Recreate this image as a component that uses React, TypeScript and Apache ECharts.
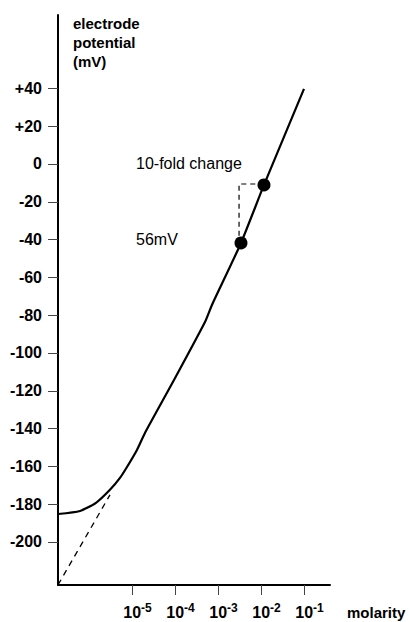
import React, { useEffect, useRef } from "react";
import * as echarts from "echarts";

// log10(molarity) tick positions
const xTicks = [-5, -4, -3, -2, -1];
// electrode potential ticks (mV)
const yTicks = [-200, -180, -160, -140, -120, -100, -80, -60, -40, -20, 0, 20, 40];

// main electrode response curve (x = log10 molarity, y = mV)
const curveX = [-6.721, -6.209, -5.837, -5.512, -5.279, -5.116, -4.884, -4.698, -4.023, -3.302, -3.14, -2.465, -1.93, -1.0];
const curveY = [-185.2, -183.6, -179.3, -172.4, -166.1, -160.3, -151.3, -142.3, -114.3, -83.6, -74.6, -41.8, -11.1, 39.7];

// extrapolated (dashed) ideal response
const extX = [-6.72, -5.512];
const extY = [-222.7, -175.1];

// marked points (10-fold change)
const dotX = [-2.465, -1.93];
const dotY = [-41.8, -11.1];

// bracket showing the 10-fold change / 56 mV step
const bracketX = [-2.51, -2.51, -1.98];
const bracketY = [-38.0, -10.6, -10.6];

const xMin = -6.72;
const xMax = -0.395;
const yMin = -222.75;
const yMax = 78.8;

const FONT = '"Liberation Sans", Arial, Helvetica, sans-serif';

export default function App() {
  const ref = useRef<HTMLDivElement>(null);
  useEffect(() => {
    if (!ref.current) return;
    document.body.style.margin = "0";
    const chart = echarts.init(ref.current, null, { renderer: "svg" });
    const zip = (a: number[], b: number[]) => a.map((v, i) => [v, b[i]]);
    chart.setOption({
      animation: false,
      backgroundColor: "#fff",
      grid: { left: 58, right: 80, top: 15, bottom: 37 },
      xAxis: {
        type: "value",
        min: xMin,
        max: xMax,
        splitLine: { show: false },
        axisLine: { show: true, onZero: false, lineStyle: { color: "#000", width: 2 } },
        axisTick: { show: true, length: 10, customValues: xTicks, lineStyle: { color: "#444", width: 1 } },
        axisLabel: {
          customValues: xTicks,
          margin: 17,
          formatter: (v: number) => `{g|}{b|10}{s|${v}}`,
          rich: {
            g: { width: 11 },
            b: { fontSize: 16, fontWeight: "bold", color: "#000", fontFamily: FONT },
            s: { fontSize: 12, fontWeight: "bold", color: "#000", fontFamily: FONT, padding: [0, 0, 9, 0] },
          },
        },
      },
      yAxis: {
        type: "value",
        min: yMin,
        max: yMax,
        splitLine: { show: false },
        axisLine: { show: true, onZero: false, lineStyle: { color: "#000", width: 2 } },
        axisTick: { show: true, length: 10, customValues: yTicks, lineStyle: { color: "#444", width: 1 } },
        axisLabel: {
          customValues: yTicks,
          margin: 16,
          color: "#000",
          fontSize: 16,
          fontWeight: "bold",
          fontFamily: FONT,
          formatter: (v: number) => (v > 0 ? "+" + v : String(v)),
        },
      },
      series: [
        {
          type: "line",
          data: zip(curveX, curveY),
          smooth: 0.2,
          symbol: "none",
          lineStyle: { color: "#000", width: 2.2 },
          z: 3,
        },
        {
          type: "line",
          data: zip(extX, extY),
          symbol: "none",
          lineStyle: { color: "#000", width: 1.3, type: [6, 5] },
          z: 2,
        },
        {
          type: "line",
          data: zip(bracketX, bracketY),
          symbol: "none",
          lineStyle: { color: "#000", width: 1.2, type: [5, 4] },
          z: 2,
        },
        {
          type: "scatter",
          data: zip(dotX, dotY),
          symbol: "circle",
          symbolSize: 13,
          itemStyle: { color: "#000", opacity: 1 },
          z: 4,
        },
      ],
      graphic: [
        {
          type: "text",
          left: 73,
          top: 14,
          style: {
            text: "electrode\npotential\n(mV)",
            fill: "#000",
            font: `bold 15px ${FONT}`,
            lineHeight: 19,
          },
        },
        {
          type: "text",
          x: 136,
          y: 163,
          style: { text: "10-fold change", fill: "#000", font: `16px ${FONT}`, verticalAlign: "middle" },
        },
        {
          type: "text",
          x: 136,
          y: 239,
          style: { text: "56mV", fill: "#000", font: `16px ${FONT}`, verticalAlign: "middle" },
        },
        {
          type: "text",
          x: 347,
          y: 612,
          style: { text: "molarity", fill: "#000", font: `bold 15px ${FONT}`, verticalAlign: "middle" },
        },
      ],
    });
    return () => chart.dispose();
  }, []);
  return <div ref={ref} style={{ width: 410, height: 622 }} />;
}
